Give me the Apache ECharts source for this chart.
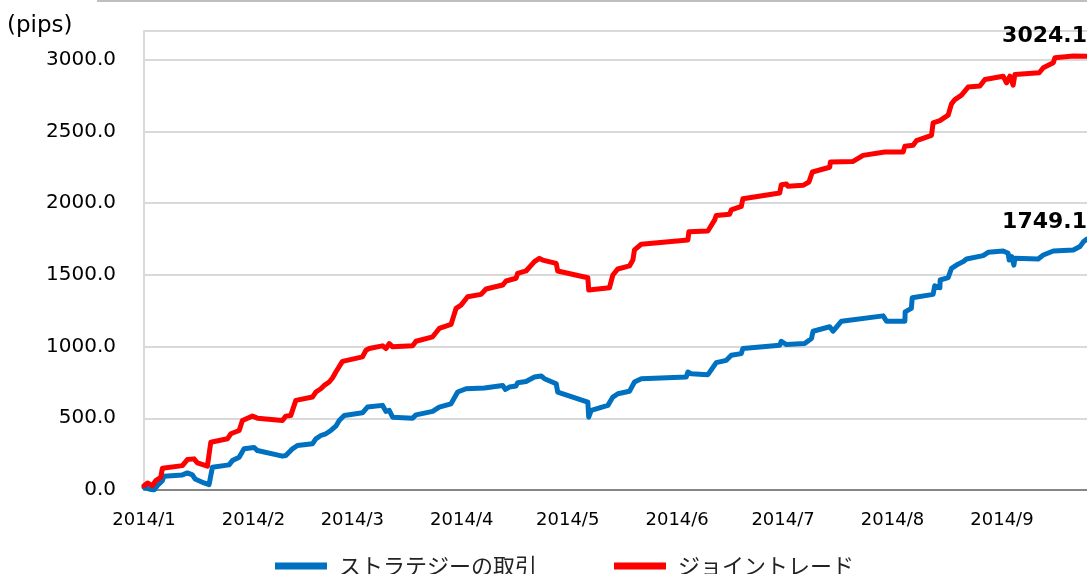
<!DOCTYPE html>
<html>
<head>
<meta charset="utf-8">
<script src="https://cdn.jsdelivr.net/npm/echarts@6/dist/echarts.min.js"></script>
<style>
html,body{margin:0;padding:0;background:#fff;}
#chart{width:1087px;height:574px;}
</style>
</head>
<body>
<div id="chart"></div>
<script>
var seriesNames = ['ストラテジーの取引', 'ジョイントレード'];
var unitLabel = '(pips)';
var xMin = '2014-01-01 00:00';
var xMax = '2014-09-25 02:00';
var yMax = 3200;

var strategyDates = ['2014-01-01 00:00','2014-01-02 10:00','2014-01-03 20:00','2014-01-04 18:00','2014-01-06 05:00','2014-01-06 16:00','2014-01-11 21:00','2014-01-13 07:00','2014-01-14 17:00','2014-01-15 11:00','2014-01-18 00:00','2014-01-19 10:00','2014-01-20 09:00','2014-01-25 02:00','2014-01-26 01:00','2014-01-27 23:00','2014-01-29 08:00','2014-02-01 05:00','2014-02-02 03:00','2014-02-09 05:00','2014-02-10 04:00','2014-02-12 01:00','2014-02-13 11:00','2014-02-17 17:00','2014-02-18 16:00','2014-02-20 02:00','2014-02-21 12:00','2014-02-22 22:00','2014-02-24 08:00','2014-02-25 07:00','2014-02-26 17:00','2014-03-03 21:00','2014-03-05 07:00','2014-03-05 19:00','2014-03-09 13:00','2014-03-10 13:00','2014-03-11 11:00','2014-03-12 10:00','2014-03-18 02:00','2014-03-19 01:00','2014-03-23 18:00','2014-03-25 15:00','2014-03-28 23:00','2014-03-30 20:00','2014-04-02 05:00','2014-04-07 10:00','2014-04-12 14:00','2014-04-13 09:00','2014-04-14 12:00','2014-04-16 09:00','2014-04-16 20:00','2014-04-19 05:00','2014-04-21 14:00','2014-04-23 12:00','2014-04-24 10:00','2014-04-27 18:00','2014-04-28 04:00','2014-05-06 17:00','2014-05-06 23:00','2014-05-07 16:00','2014-05-12 09:00','2014-05-13 19:00','2014-05-15 05:00','2014-05-18 12:00','2014-05-19 22:00','2014-05-21 20:00','2014-06-03 14:00','2014-06-04 01:00','2014-06-05 00:00','2014-06-09 17:00','2014-06-12 02:00','2014-06-14 22:00','2014-06-16 08:00','2014-06-19 04:00','2014-06-19 15:00','2014-06-30 01:00','2014-06-30 12:00','2014-07-01 23:00','2014-07-07 03:00','2014-07-09 01:00','2014-07-09 12:00','2014-07-14 05:00','2014-07-15 04:00','2014-07-17 13:00','2014-07-29 08:00','2014-07-30 07:00','2014-08-04 12:00','2014-08-04 14:00','2014-08-06 08:00','2014-08-06 14:00','2014-08-12 12:00','2014-08-12 23:00','2014-08-14 10:00','2014-08-14 12:00','2014-08-16 18:00','2014-08-17 17:00','2014-08-19 03:00','2014-08-21 00:00','2014-08-21 23:00','2014-08-26 16:00','2014-08-28 02:00','2014-09-01 08:00','2014-09-02 18:00','2014-09-03 01:00','2014-09-03 18:00','2014-09-04 09:00','2014-09-04 16:00','2014-09-11 06:00','2014-09-12 17:00','2014-09-15 13:00','2014-09-21 05:00','2014-09-23 02:00','2014-09-24 01:00','2014-09-25 02:00'];
var strategyValues = [19,7,0,30,65,96,105,119,105,77,49,37,159,175,205,229,287,296,275,236,240,287,310,322,357,380,392,415,445,485,520,538,578,585,590,548,555,508,501,524,548,578,601,683,706,711,729,701,718,725,748,757,788,795,776,741,683,613,508,555,590,648,671,688,753,776,788,823,811,804,888,904,939,951,986,1009,1037,1014,1021,1056,1107,1138,1107,1177,1214,1177,1177,1242,1266,1340,1364,1424,1410,1464,1480,1545,1568,1592,1610,1634,1657,1666,1650,1603,1627,1568,1615,1610,1638,1666,1673,1697,1730,1749.1];

var jointDates = ['2014-01-01 00:00','2014-01-02 00:00','2014-01-03 08:00','2014-01-04 08:00','2014-01-05 18:00','2014-01-06 05:00','2014-01-11 21:00','2014-01-13 07:00','2014-01-15 04:00','2014-01-16 03:00','2014-01-18 23:00','2014-01-19 22:00','2014-01-24 15:00','2014-01-25 14:00','2014-01-27 23:00','2014-01-28 21:00','2014-01-31 17:00','2014-02-02 03:00','2014-02-09 05:00','2014-02-10 04:00','2014-02-11 14:00','2014-02-13 00:00','2014-02-17 17:00','2014-02-18 16:00','2014-02-20 02:00','2014-02-21 01:00','2014-02-22 11:00','2014-02-23 09:00','2014-02-24 08:00','2014-02-26 05:00','2014-03-03 21:00','2014-03-04 21:00','2014-03-05 19:00','2014-03-09 13:00','2014-03-10 13:00','2014-03-11 11:00','2014-03-12 10:00','2014-03-18 02:00','2014-03-19 01:00','2014-03-23 18:00','2014-03-25 15:00','2014-03-28 23:00','2014-03-30 09:00','2014-03-31 19:00','2014-04-02 16:00','2014-04-06 11:00','2014-04-07 21:00','2014-04-12 14:00','2014-04-13 13:00','2014-04-16 09:00','2014-04-16 20:00','2014-04-19 05:00','2014-04-21 14:00','2014-04-23 00:00','2014-04-23 22:00','2014-04-27 18:00','2014-04-28 04:00','2014-05-06 17:00','2014-05-06 23:00','2014-05-12 20:00','2014-05-13 19:00','2014-05-15 05:00','2014-05-18 12:00','2014-05-19 11:00','2014-05-19 22:00','2014-05-21 20:00','2014-06-04 01:00','2014-06-04 08:00','2014-06-09 17:00','2014-06-11 15:00','2014-06-12 02:00','2014-06-15 21:00','2014-06-16 08:00','2014-06-19 04:00','2014-06-19 15:00','2014-06-30 01:00','2014-06-30 12:00','2014-07-01 23:00','2014-07-02 09:00','2014-07-06 16:00','2014-07-08 08:00','2014-07-09 07:00','2014-07-14 05:00','2014-07-14 10:00','2014-07-20 20:00','2014-07-23 16:00','2014-07-29 19:00','2014-07-30 07:00','2014-08-04 00:00','2014-08-04 12:00','2014-08-06 20:00','2014-08-07 19:00','2014-08-12 01:00','2014-08-12 12:00','2014-08-14 10:00','2014-08-16 18:00','2014-08-17 17:00','2014-08-18 16:00','2014-08-20 13:00','2014-08-22 10:00','2014-08-25 18:00','2014-08-27 04:00','2014-09-01 08:00','2014-09-02 07:00','2014-09-03 06:00','2014-09-04 04:00','2014-09-04 16:00','2014-09-11 13:00','2014-09-12 17:00','2014-09-15 13:00','2014-09-16 00:00','2014-09-21 05:00','2014-09-25 02:00'];
var jointValues = [30,49,30,65,89,152,170,212,217,189,166,333,357,392,415,485,515,501,485,515,520,625,648,683,706,729,753,781,823,897,928,974,986,1005,986,1021,998,1005,1037,1068,1126,1154,1266,1289,1347,1364,1401,1429,1457,1476,1510,1527,1592,1615,1603,1580,1527,1480,1394,1410,1499,1541,1562,1603,1674,1713,1743,1801,1806,1883,1914,1923,1953,1977,2030,2070,2128,2133,2117,2124,2147,2217,2250,2287,2291,2333,2357,2366,2357,2396,2403,2436,2473,2559,2575,2613,2692,2722,2753,2809,2816,2862,2885,2839,2885,2823,2897,2909,2944,2979,3014,3025,3024.1];

var colors = ['#0070C0', '#FF0000'];

function pairs(dates, values) {
  var out = [];
  for (var i = 0; i < dates.length; i++) out.push([dates[i], values[i]]);
  return out;
}

function endMark(dates, values, labelDistance) {
  var n = dates.length - 1;
  return {
    symbol: 'circle', symbolSize: 0, silent: true, animation: false,
    itemStyle: { color: 'rgba(0,0,0,0)' },
    label: {
      show: true, position: 'top', align: 'right', distance: labelDistance,
      fontFamily: 'DejaVu Sans', fontWeight: 'bold', fontSize: 22, color: '#000',
      formatter: function (p) { return Number(p.value).toFixed(1); }
    },
    data: [{ coord: [dates[n], values[n]], value: values[n] }]
  };
}

var chart = echarts.init(document.getElementById('chart'), null, { renderer: 'canvas' });
chart.setOption({
  animation: false,
  backgroundColor: '#fff',
  title: {
    text: unitLabel, left: 7, top: 15, padding: 0,
    textStyle: { fontFamily: 'DejaVu Sans', fontSize: 23, fontWeight: 'normal', color: '#000' }
  },
  graphic: [{
    type: 'line', silent: true,
    shape: { x1: 97, y1: 1, x2: 1087, y2: 1 },
    style: { stroke: '#bfbfbf', lineWidth: 2 }
  }],
  legend: {
    left: 270, top: 550, itemWidth: 52, itemHeight: 7, itemGap: 77,
    icon: 'rect',
    textStyle: { fontFamily: 'Noto Sans CJK JP', fontSize: 22, color: '#222', padding: [0, 0, 0, 7] },
    data: seriesNames
  },
  grid: { left: 144, right: 0, top: 31, bottom: 84, containLabel: false },
  xAxis: {
    type: 'time', min: xMin, max: xMax, splitNumber: 9,
    axisLine: { lineStyle: { color: '#868686', width: 2 } },
    axisTick: { show: false },
    splitLine: { show: false },
    axisLabel: {
      fontFamily: 'DejaVu Sans', fontSize: 18, color: '#000', margin: 21,
      showMaxLabel: false, hideOverlap: false,
      formatter: function (val) {
        var d = new Date(val);
        if (d.getDate() !== 1 || d.getHours() !== 0) return '';
        return d.getFullYear() + '/' + (d.getMonth() + 1);
      }
    }
  },
  yAxis: {
    type: 'value', min: 0, max: yMax, interval: 500,
    axisLine: { show: true, lineStyle: { color: '#d9d9d9', width: 2 } },
    axisTick: { show: false },
    splitLine: { show: true, lineStyle: { color: '#d9d9d9', width: 2 } },
    axisLabel: {
      fontFamily: 'DejaVu Sans', fontSize: 20, color: '#000', margin: 28,
      formatter: function (v) { return (v % 500 === 0) ? v.toFixed(1) : ''; }
    }
  },
  series: [
    {
      name: seriesNames[0], type: 'line', showSymbol: false, symbol: 'none',
      data: pairs(strategyDates, strategyValues),
      lineStyle: { color: colors[0], width: 5, join: 'round', cap: 'round' },
      itemStyle: { color: colors[0] },
      markPoint: endMark(strategyDates, strategyValues, 6)
    },
    {
      name: seriesNames[1], type: 'line', showSymbol: false, symbol: 'none',
      data: pairs(jointDates, jointValues),
      lineStyle: { color: colors[1], width: 5, join: 'round', cap: 'round' },
      itemStyle: { color: colors[1] },
      markPoint: endMark(jointDates, jointValues, 9)
    }
  ]
});
</script>
</body>
</html>
